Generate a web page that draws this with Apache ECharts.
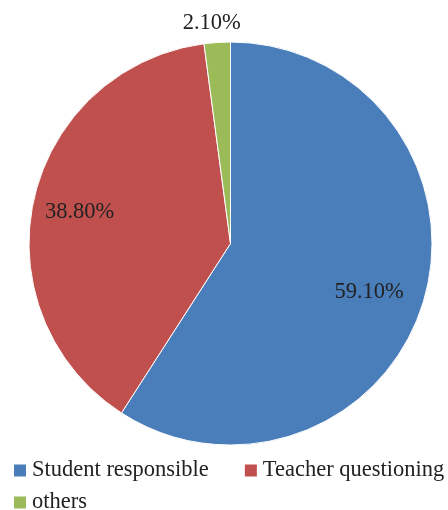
<!DOCTYPE html>
<html>
<head>
<meta charset="utf-8">
<script src="https://cdn.jsdelivr.net/npm/echarts@6/dist/echarts.min.js"></script>
<style>
html,body{margin:0;padding:0;background:#fff;}
#chart{width:448px;height:510px;}
</style>
</head>
<body>
<div id="chart"></div>
<script>
var categories = ['Student responsible', 'Teacher questioning', 'others'];
var values = [59.1, 38.8, 2.1];
var colors = ['#4a7ebb', '#c0504d', '#9bbb59'];

var FONT = "'Liberation Serif', 'Times New Roman', serif";
var chart = echarts.init(document.getElementById('chart'));

function makeData(showIdx, withColor) {
  return categories.map(function (c, i) {
    return {
      name: c,
      value: values[i],
      itemStyle: withColor ? { color: colors[i] } : { color: 'rgba(0,0,0,0)', borderWidth: 0 },
      label: { show: showIdx.indexOf(i) >= 0 }
    };
  });
}
var labelStyle = {
  position: 'inside',
  formatter: function (p) { return p.value.toFixed(2) + '%'; },
  fontFamily: FONT,
  fontSize: 22.5,
  color: '#222'
};
var common = {
  type: 'pie',
  center: [230.5, 243.5],
  startAngle: 90,
  clockwise: true,
  silent: true,
  animation: false,
  labelLine: { show: false },
  emphasis: { disabled: true }
};
var legendText = { fontFamily: FONT, fontSize: 22.5, color: '#222' };

var option = {
  backgroundColor: '#fff',
  color: colors,
  legend: [{
    data: categories.slice(0, 2),
    left: 12, top: 459,
    itemWidth: 14, itemHeight: 14, itemGap: 34, padding: 0,
    icon: 'rect',
    textStyle: legendText,
    selectedMode: false
  }, {
    data: categories.slice(2),
    left: 12, top: 491,
    itemWidth: 14, itemHeight: 14, itemGap: 34, padding: 0,
    icon: 'rect',
    textStyle: legendText,
    selectedMode: false
  }],
  series: [
    Object.assign({}, common, {
      radius: [0, 201.5],
      itemStyle: { borderColor: '#fff', borderWidth: 1 },
      label: { show: false },
      data: makeData([], true)
    }),
    Object.assign({}, common, {
      radius: [124, 164],
      startAngle: 87,
      label: labelStyle,
      data: makeData([0], false)
    }),
    Object.assign({}, common, {
      radius: [131, 171],
      startAngle: 91,
      label: labelStyle,
      data: makeData([1], false)
    }),
    Object.assign({}, common, {
      radius: [207, 229],
      startAngle: 91.1,
      label: labelStyle,
      data: makeData([2], false)
    })
  ]
};
chart.setOption(option);
</script>
</body>
</html>
